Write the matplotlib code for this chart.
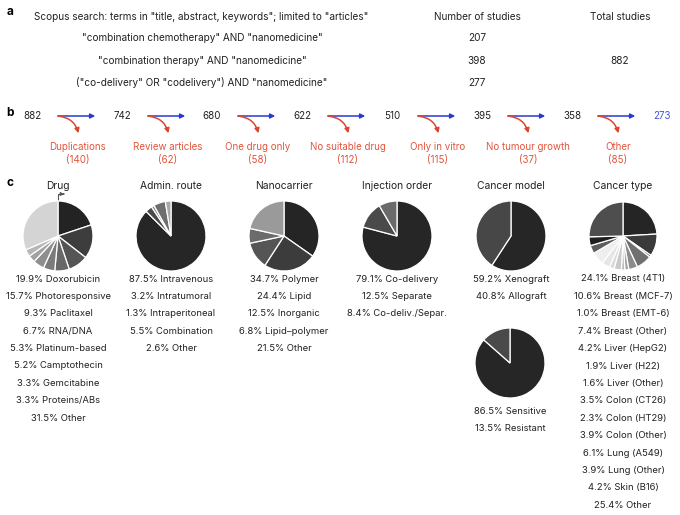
import matplotlib
matplotlib.use('Agg')
import matplotlib.pyplot as plt
from matplotlib.patches import FancyArrowPatch

plt.rcParams['font.family'] = ['Inter', 'DejaVu Sans']

# ---- panel a data
search_header = 'Scopus search: terms in "title, abstract, keywords"; limited to "articles"'
search_terms = ['"combination chemotherapy" AND "nanomedicine"',
                '"combination therapy" AND "nanomedicine"',
                '("co-delivery" OR "codelivery") AND "nanomedicine"']
search_counts = [207, 398, 277]
total_studies = 882

# ---- panel b data
flow_counts = [882, 742, 680, 622, 510, 395, 358, 273]
excl_reasons = ['Duplications', 'Review articles', 'One drug only', 'No suitable drug',
                'Only in vitro', 'No tumour growth', 'Other']
excl_counts = [140, 62, 58, 112, 115, 37, 85]

# ---- panel c data
drug_labels = ['Doxorubicin', 'Photoresponsive', 'Paclitaxel', 'RNA/DNA', 'Platinum-based',
               'Camptothecin', 'Gemcitabine', 'Proteins/ABs', 'Other']
drug_vals = [19.9, 15.7, 9.3, 6.7, 5.3, 5.2, 3.3, 3.3, 31.5]
drug_cols = ['#232323', '#3d3d3d', '#555555', '#686868', '#7b7b7b', '#8e8e8e', '#a2a2a2',
             '#b6b6b6', '#d4d4d4']

route_labels = ['Intravenous', 'Intratumoral', 'Intraperitoneal', 'Combination', 'Other']
route_vals = [87.5, 3.2, 1.3, 5.5, 2.6]
route_cols = ['#262626', '#4a4a4a', '#8a8a8a', '#6e6e6e', '#a8a8a8']

carrier_labels = ['Polymer', 'Lipid', 'Inorganic', 'Lipid\u2013polymer', 'Other']
carrier_vals = [34.7, 24.4, 12.5, 6.8, 21.5]
carrier_cols = ['#252525', '#3c3c3c', '#555555', '#6b6b6b', '#9a9a9a']

order_labels = ['Co-delivery', 'Separate', 'Co-deliv./Separ.']
order_vals = [79.1, 12.5, 8.4]
order_cols = ['#262626', '#4a4a4a', '#6a6a6a']

model_labels = ['Xenograft', 'Allograft']
model_vals = [59.2, 40.8]
model_cols = ['#262626', '#474747']

sens_labels = ['Sensitive', 'Resistant']
sens_vals = [86.5, 13.5]
sens_cols = ['#262626', '#4a4a4a']

ctype_labels = ['Breast (4T1)', 'Breast (MCF-7)', 'Breast (EMT-6)', 'Breast (Other)',
                'Liver (HepG2)', 'Liver (H22)', 'Liver (Other)', 'Colon (CT26)',
                'Colon (HT29)', 'Colon (Other)', 'Lung (A549)', 'Lung (Other)',
                'Skin (B16)', 'Other']
ctype_vals = [24.1, 10.6, 1.0, 7.4, 4.2, 1.9, 1.6, 3.5, 2.3, 3.9, 6.1, 3.9, 4.2, 25.4]
ctype_cols = ['#252525', '#3a3a3a', '#5a5a5a', '#707070', '#8c8c8c', '#a4a4a4', '#b8b8b8',
              '#cacaca', '#dadada', '#e6e6e6', '#eeeeee', '#5e5e5e', '#1f1f1f', '#4e4e4e']

W, H = 680, 515
fig = plt.figure(figsize=(W / 100, H / 100), dpi=100)
ax0 = fig.add_axes([0, 0, 1, 1])
ax0.set_xlim(0, W)
ax0.set_ylim(H, 0)
ax0.axis('off')

txt = '#222222'
fs = 6.8


def t(x, y, s, **kw):
    kw.setdefault('fontsize', fs)
    kw.setdefault('color', txt)
    ax0.text(x, y, s, ha=kw.pop('ha', 'center'), va='center', **kw)


# ---- a
t(10, 12, 'a', fontsize=8.5, fontweight='bold', color='black')
t(201, 17, search_header, fontsize=7.2)
t(477, 17, 'Number of studies', fontsize=7.2)
t(620, 17, 'Total studies', fontsize=7.2)
for i, (term, n) in enumerate(zip(search_terms, search_counts)):
    y = 38 + i * 22.5
    t(202, y, term, fontsize=7.2)
    t(477, y, str(n), fontsize=7.2)
t(620, 60.5, str(total_studies), fontsize=7.2)

# ---- b
blue = '#2a3ad0'
red = '#d9472f'
t(10, 113, 'b', fontsize=8.5, fontweight='bold', color='black')
yb = 116
for i, n in enumerate(flow_counts):
    x = 32 + i * 90
    last = i == len(flow_counts) - 1
    t(x, yb, str(n), color='#4455dd' if last else txt, fontsize=7.0)
    if last:
        break
    ax0.add_patch(FancyArrowPatch((x + 23, yb), (x + 66, yb), arrowstyle='-|>',
                                  mutation_scale=7, color=blue, lw=1.1))
    ax0.add_patch(FancyArrowPatch((x + 24, yb), (x + 47, yb + 20), arrowstyle='-|>',
                                  connectionstyle='arc3,rad=-0.4',
                                  mutation_scale=7, color=red, lw=1.1))
    t(x + 46, yb + 31, excl_reasons[i], color='#e0553c', fontsize=7.0)
    t(x + 46, yb + 44, '(%d)' % excl_counts[i], color='#e0553c', fontsize=7.0)

# ---- c
t(10, 183, 'c', fontsize=8.5, fontweight='bold', color='black')


def pie_block(cx, cy, title, vals, cols, labels, r=35, ty=186, ly=None):
    ax = fig.add_axes([(cx - r) / W, 1 - (cy + r) / H, 2 * r / W, 2 * r / H])
    ax.pie(vals, colors=cols, startangle=90, counterclock=False,
           wedgeprops=dict(edgecolor='white', linewidth=0.9))
    ax.set_xlim(-1, 1)
    ax.set_ylim(-1, 1)
    ax.set_aspect('equal')
    if title:
        t(cx, ty, title, fontsize=7.4)
    if ly is None:
        ly = cy + r + 8
    for j, (v, lab) in enumerate(zip(vals, labels)):
        t(cx, ly + j * 17.4, '%.1f%% %s' % (v, lab))


pie_block(58, 236, 'Drug', drug_vals, drug_cols, drug_labels, ly=279)
pie_block(171, 236, 'Admin. route', route_vals, route_cols, route_labels, ly=279)
pie_block(284, 236, 'Nanocarrier', carrier_vals, carrier_cols, carrier_labels, ly=279)
pie_block(397, 236, 'Injection order', order_vals, order_cols, order_labels, ly=279)
pie_block(511, 236, 'Cancer model', model_vals, model_cols, model_labels, ly=279)
pie_block(510, 363, None, sens_vals, sens_cols, sens_labels, ly=411)
pie_block(623, 236, 'Cancer type', ctype_vals, ctype_cols, ctype_labels, r=34, ly=279)

# start marker on the drug pie
ax0.plot([58, 58, 62], [201, 194, 194], color='#555555', lw=0.8)
ax0.add_patch(FancyArrowPatch((61, 194), (67, 194), arrowstyle='-|>', mutation_scale=5,
                              color='#555555', lw=0.8))

fig.savefig('out.png', dpi=100, facecolor='white')
